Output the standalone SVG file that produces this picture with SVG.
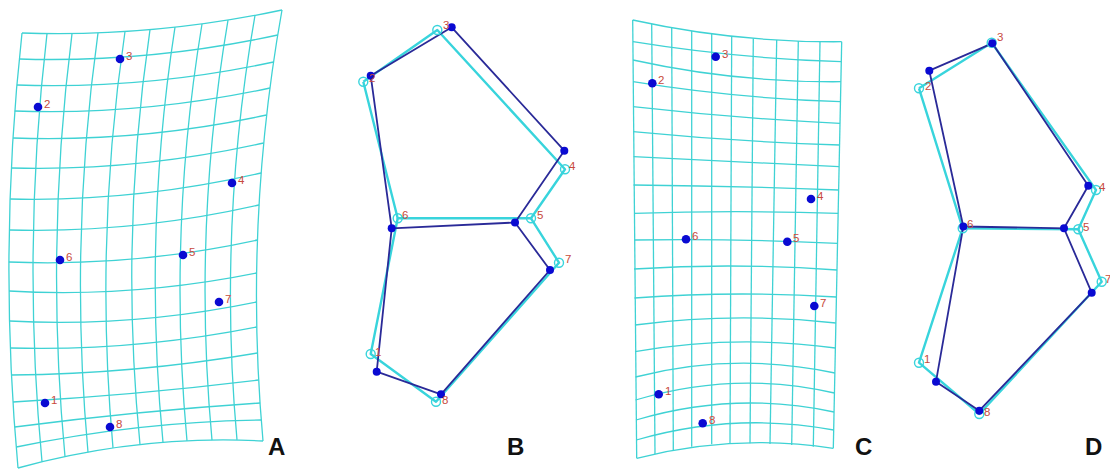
<svg xmlns="http://www.w3.org/2000/svg" width="1110" height="470" viewBox="0 0 1110 470">
<style>
.grid{fill:none;stroke:#3fd2d4;stroke-width:1.3}
.cy{fill:none;stroke:#38d4dc;stroke-width:2.4;stroke-linejoin:round}
.bl{fill:none;stroke:#2a2a98;stroke-width:1.8;stroke-linejoin:round}
.dot{fill:#0a0ad2}
.ring{fill:none;stroke:#38d4dc;stroke-width:1.4}
.lb{font-family:"Liberation Sans",Arial,sans-serif;font-size:11.5px;fill:#c84a3c}
.big{font-family:"Liberation Sans",Arial,sans-serif;font-size:24px;font-weight:bold;fill:#111}
</style>
<rect width="1110" height="470" fill="#fff"/>
<g id="panelA">
<g id="gridA" class="grid">
<path d="M22,33 Q-2,250 18,468"/>
<path d="M47,33.6 Q21.8,248 42,461.8"/>
<path d="M72,33.6 Q45.1,245 65,456.7"/>
<path d="M98,32.9 Q68.9,242 88,452.2"/>
<path d="M125,31.5 Q94.2,240 113,447.9"/>
<path d="M150,29.7 Q119.5,237 140,444.5"/>
<path d="M175,27.2 Q142.8,235 163,442.4"/>
<path d="M202,24 Q167.6,232 187,440.9"/>
<path d="M228,20.1 Q192.4,230 212,440.1"/>
<path d="M255,15.4 Q217.7,228 237,439.9"/>
<path d="M282,10 Q243.5,225 263,441"/>
<path d="M22,33 Q152,37.5 282,10"/>
<path d="M19.3,59 Q148.5,63 277.7,35"/>
<path d="M16.9,85 Q145.2,89.5 273.5,62"/>
<path d="M14.7,111 Q142.4,115.5 270,88"/>
<path d="M13,138 Q139.8,142.5 266.6,115"/>
<path d="M11.3,168 Q137.5,171.5 263.7,143"/>
<path d="M10.1,199 Q135.7,202 261.2,173"/>
<path d="M9.3,230 Q134.2,233.5 259.1,205"/>
<path d="M8.9,262 Q133.2,267 257.4,240"/>
<path d="M9,291 Q132.8,298 256.5,273"/>
<path d="M9.5,321 Q133,327.5 256.4,302"/>
<path d="M10.3,348 Q133.5,351.5 256.7,327"/>
<path d="M11.6,375 Q134.6,374 257.5,353"/>
<path d="M13,402 Q135.8,395 258.6,380"/>
<path d="M14.8,427 Q137.5,411 260.1,403"/>
<path d="M16.4,447 Q138.9,421.5 261.3,420"/>
<path d="M18,468 Q140.5,434.5 263,441"/>
</g>
<g id="pointsA">
<circle class="dot" cx="45" cy="403" r="4.3"/><text class="lb" x="51" y="404">1</text>
<circle class="dot" cx="38" cy="107" r="4.3"/><text class="lb" x="44" y="108">2</text>
<circle class="dot" cx="120" cy="59" r="4.3"/><text class="lb" x="126" y="60">3</text>
<circle class="dot" cx="232" cy="183" r="4.3"/><text class="lb" x="238" y="184">4</text>
<circle class="dot" cx="183" cy="255" r="4.3"/><text class="lb" x="189" y="256">5</text>
<circle class="dot" cx="60" cy="260" r="4.3"/><text class="lb" x="66" y="261">6</text>
<circle class="dot" cx="219" cy="302" r="4.3"/><text class="lb" x="225" y="303">7</text>
<circle class="dot" cx="110" cy="427" r="4.3"/><text class="lb" x="116" y="428">8</text>
</g>
<text class="big" x="268" y="455">A</text>
</g>
<g id="panelB">
<g id="connectorsB">
<polyline class="cy" points="363.3,81.7 437.3,30 565,169.3 531,218.3 397.7,218.3 363.3,81.7"/>
<polyline class="cy" points="397.7,218.3 370.7,354 436,401.7 559,262.7 531,218.3"/>
<polyline class="bl" points="370.7,75.7 451.7,27.3 564.3,150.7 515,222.5 391.7,228.3 370.7,75.7"/>
<polyline class="bl" points="391.7,228.3 376.7,371.7 441,394.3 550,270 515,222.5"/>
</g>
<g id="pointsB">
<circle class="ring" cx="370.7" cy="354" r="4.5"/><circle class="ring" cx="363.3" cy="81.7" r="4.5"/><circle class="ring" cx="437.3" cy="30" r="4.5"/><circle class="ring" cx="565" cy="169.3" r="4.5"/><circle class="ring" cx="531" cy="218.3" r="4.5"/><circle class="ring" cx="397.7" cy="218.3" r="4.5"/><circle class="ring" cx="559" cy="262.7" r="4.5"/><circle class="ring" cx="436" cy="401.7" r="4.5"/>
<circle class="dot" cx="376.7" cy="371.7" r="4"/><circle class="dot" cx="370.7" cy="75.7" r="4"/><circle class="dot" cx="451.7" cy="27.3" r="4"/><circle class="dot" cx="564.3" cy="150.7" r="4"/><circle class="dot" cx="515" cy="222.5" r="4"/><circle class="dot" cx="391.7" cy="228.3" r="4"/><circle class="dot" cx="550" cy="270" r="4"/><circle class="dot" cx="441" cy="394.3" r="4"/>
<text class="lb" x="375" y="356">1</text><text class="lb" x="369" y="82">2</text><text class="lb" x="443" y="29">3</text><text class="lb" x="569" y="170">4</text><text class="lb" x="537" y="219">5</text><text class="lb" x="402" y="219">6</text><text class="lb" x="565" y="263">7</text><text class="lb" x="442" y="404">8</text>
</g>
<text class="big" x="507" y="455">B</text>
</g>
<g id="panelC">
<g id="gridC" class="grid">
<path d="M632.7,20 L636.7,458.3"/>
<path d="M651.7,24 L655,454"/>
<path d="M671.7,27.7 L673.3,450"/>
<path d="M691.7,31 L691.7,446.7"/>
<path d="M711.7,33.8 L711.7,444.3"/>
<path d="M731.7,36.5 L730,443.3"/>
<path d="M753.3,38.4 L750,443.3"/>
<path d="M776.7,40 L770,444"/>
<path d="M798.3,41.1 L791.7,445"/>
<path d="M820,41.7 L813.3,446.7"/>
<path d="M841.7,41.7 L833.3,448.3"/>
<path d="M632.7,20 Q735,42.6 841.7,41.7"/>
<path d="M633,41.7 Q735,58.3 841.3,61.7"/>
<path d="M633,60 Q735,82.6 840.9,81.7"/>
<path d="M633,81.7 Q735,98.3 840.5,101.7"/>
<path d="M633,106.7 Q735,118.4 840,123.3"/>
<path d="M633,131.7 Q735,141.7 839.6,145"/>
<path d="M633.5,156.7 Q735,161.7 839.1,166.7"/>
<path d="M633.5,185 Q735,185.9 838.6,190"/>
<path d="M634,213.3 Q735,210.1 838.2,213.3"/>
<path d="M634,240 Q735,238.4 837.6,243.3"/>
<path d="M634,269 Q735,262.5 837,270"/>
<path d="M634.5,298 Q735,290.5 836.4,297"/>
<path d="M635,325 Q735,312 835.9,323"/>
<path d="M635,351.7 Q735,334.2 835.4,348"/>
<path d="M635.5,377 Q735,351.6 834.9,373"/>
<path d="M635.5,400 Q735,370.1 834.4,393"/>
<path d="M636,420 Q735,390.6 834,412"/>
<path d="M636.3,440 Q735,411.6 833.7,430"/>
<path d="M636.7,458.3 Q735,433.3 833.3,448.3"/>
</g>
<g id="pointsC">
<circle class="dot" cx="658.7" cy="394.3" r="4.3"/><text class="lb" x="665" y="395">1</text>
<circle class="dot" cx="652.3" cy="83.3" r="4.3"/><text class="lb" x="658" y="84">2</text>
<circle class="dot" cx="715.7" cy="56.7" r="4.3"/><text class="lb" x="722" y="58">3</text>
<circle class="dot" cx="811" cy="199" r="4.3"/><text class="lb" x="817" y="200">4</text>
<circle class="dot" cx="787.3" cy="241.7" r="4.3"/><text class="lb" x="793" y="242">5</text>
<circle class="dot" cx="686" cy="239.3" r="4.3"/><text class="lb" x="692" y="240">6</text>
<circle class="dot" cx="814.3" cy="306" r="4.3"/><text class="lb" x="820" y="307">7</text>
<circle class="dot" cx="702.7" cy="423.3" r="4.3"/><text class="lb" x="709" y="424">8</text>
</g>
<text class="big" x="855" y="455">C</text>
</g>
<g id="panelD">
<g id="connectorsD">
<polyline class="cy" points="919,88.3 991.7,42.7 1096,190 1078.3,229.3 962.7,228.3 919,88.3"/>
<polyline class="cy" points="962.7,228.3 919,362.7 979.3,414 1101.7,281.7 1078.3,229.3"/>
<polyline class="bl" points="929.3,70.7 992.3,43.3 1088.3,185.7 1064,228.3 963.3,226.5 929.3,70.7"/>
<polyline class="bl" points="963.3,226.5 936,381.7 979.3,410.7 1091.7,292.7 1064,228.3"/>
</g>
<g id="pointsD">
<circle class="ring" cx="919" cy="362.7" r="4.5"/><circle class="ring" cx="919" cy="88.3" r="4.5"/><circle class="ring" cx="991.7" cy="42.7" r="4.5"/><circle class="ring" cx="1096" cy="190" r="4.5"/><circle class="ring" cx="1078.3" cy="229.3" r="4.5"/><circle class="ring" cx="962.7" cy="228.3" r="4.5"/><circle class="ring" cx="1101.7" cy="281.7" r="4.5"/><circle class="ring" cx="979.3" cy="414" r="4.5"/>
<circle class="dot" cx="936" cy="381.7" r="4"/><circle class="dot" cx="929.3" cy="70.7" r="4"/><circle class="dot" cx="992.3" cy="43.3" r="4"/><circle class="dot" cx="1088.3" cy="185.7" r="4"/><circle class="dot" cx="1064" cy="228.3" r="4"/><circle class="dot" cx="963.3" cy="226.5" r="4"/><circle class="dot" cx="1091.7" cy="292.7" r="4"/><circle class="dot" cx="979.3" cy="410.7" r="4"/>
<text class="lb" x="924" y="363">1</text><text class="lb" x="925" y="90">2</text><text class="lb" x="997" y="41">3</text><text class="lb" x="1099" y="191">4</text><text class="lb" x="1083" y="231">5</text><text class="lb" x="967" y="228">6</text><text class="lb" x="1105" y="283">7</text><text class="lb" x="984" y="416">8</text>
</g>
<text class="big" x="1085" y="455">D</text>
</g>
</svg>
